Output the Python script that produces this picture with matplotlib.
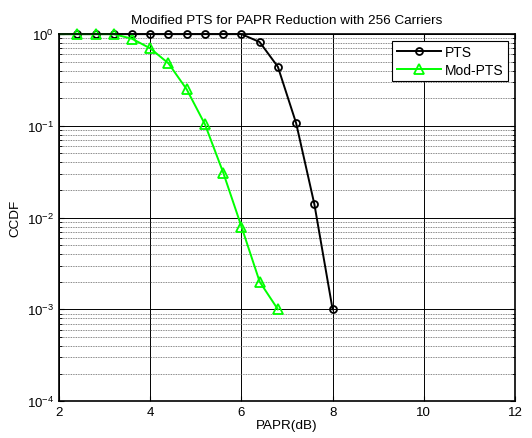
import numpy as np
import matplotlib.pyplot as plt

plt.rcParams['font.family'] = ['Liberation Sans', 'DejaVu Sans']

# CCDF of PAPR
papr_pts = [2.0, 2.4, 2.8, 3.2, 3.6, 4.0, 4.4, 4.8, 5.2, 5.6, 6.0, 6.4, 6.8, 7.2, 7.6, 8.0]
ccdf_pts = [1, 1, 1, 1, 1, 1, 1, 1, 1, 1, 1, 0.82, 0.44, 0.107, 0.014, 0.001]
papr_mod = [2.0, 2.4, 2.8, 3.2, 3.6, 4.0, 4.4, 4.8, 5.2, 5.6, 6.0, 6.4, 6.8]
ccdf_mod = [1, 1, 1, 1, 0.89, 0.70, 0.48, 0.25, 0.104, 0.031, 0.008, 0.002, 0.001]

fig = plt.figure(figsize=(5.32, 4.39), dpi=100)
ax = fig.add_axes([0.111, 0.084, 0.857, 0.836])

ax.semilogy(papr_pts, ccdf_pts, color='black', marker='o', mfc='none', ms=5, mew=1.3,
            lw=1.4, markevery=list(range(1, len(papr_pts))), label='PTS', clip_on=False)
ax.semilogy(papr_mod, ccdf_mod, color='#00ff00', marker='^', mfc='none', ms=6.5, mew=1.3,
            lw=1.4, markevery=list(range(1, len(papr_mod))), label='Mod-PTS', clip_on=False)

ax.set_xlim(2, 12)
ax.set_ylim(1e-4, 1)
ax.set_xticks([2, 4, 6, 8, 10, 12])
ax.grid(True, which='major', color='black', lw=0.7, ls='-')
ax.grid(True, which='minor', axis='y', color='#606060', lw=0.6, ls=(0, (1, 1)))
ax.tick_params(which='both', direction='in', top=True, right=True, labelsize=9.5)
ax.tick_params(which='minor', axis='x', bottom=False, top=False)
for s in ax.spines.values():
    s.set_linewidth(1.2)

ax.set_title('Modified PTS for PAPR Reduction with 256 Carriers', fontsize=9.7, pad=8)
ax.set_xlabel('PAPR(dB)', fontsize=9.7, labelpad=1)
ax.set_ylabel('CCDF', fontsize=9.7)

leg = ax.legend(loc='upper right', fontsize=10, fancybox=False, framealpha=1,
                edgecolor='black', handlelength=3.2, borderaxespad=0.5,
                labelspacing=0.25, borderpad=0.3, handletextpad=0.3)
leg.get_frame().set_linewidth(0.8)

fig.savefig('out.png', dpi=100)
